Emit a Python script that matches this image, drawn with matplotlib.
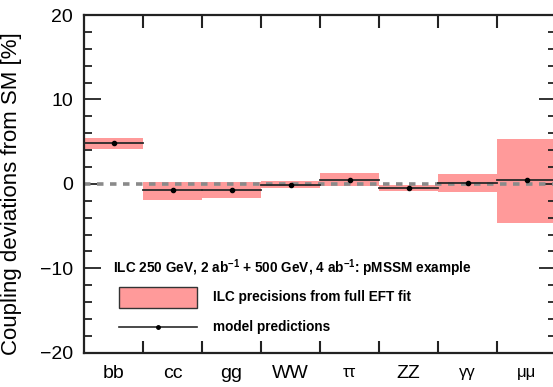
import matplotlib
matplotlib.use("Agg")
import matplotlib.pyplot as plt
from matplotlib.ticker import MultipleLocator, FixedLocator
from matplotlib.patches import Rectangle
from matplotlib.lines import Line2D

categories = ["bb", "cc", "gg", "WW", "ττ", "ZZ", "γγ", "μμ"]
model = [4.8, -0.7, -0.7, -0.15, 0.45, -0.45, 0.1, 0.45]
band_hi = [5.45, 0.2, 0.2, 0.3, 1.25, -0.1, 1.2, 5.3]
band_lo = [4.15, -1.9, -1.7, -0.5, -0.25, -0.8, -1.0, -4.6]
yticks = [-20, -10, 0, 10, 20]
ytick_labels = ["\u221220", "\u221210", "0", "10", "20"]
title_text = r"ILC 250 GeV, 2 ab$^{\mathbf{-1}}$ + 500 GeV, 4 ab$^{\mathbf{-1}}$: pMSSM example"
legend_band = "ILC precisions from full EFT fit"
legend_model = "model predictions"

plt.rcParams['font.family'] = ['Liberation Sans', 'DejaVu Sans']
plt.rcParams['mathtext.fontset'] = 'custom'
plt.rcParams['mathtext.rm'] = 'Liberation Sans'
plt.rcParams['mathtext.bf'] = 'Liberation Sans:bold'

fig = plt.figure(figsize=(5.53, 3.87), dpi=100)
ax = fig.add_axes([84/553, 34.3/387, 472/553, 337.7/387])

band_color = "#ff9a9a"
xs = list(range(len(categories)))
ax.bar(xs, [h - l for h, l in zip(band_hi, band_lo)], bottom=band_lo, width=1.0,
       color=band_color, edgecolor="none", zorder=1)
for x, m in zip(xs, model):
    ax.plot([x - 0.5, x + 0.5], [m, m], color="#2a2a2a", lw=1.3, zorder=3)
ax.plot(xs, model, "o", color="black", ms=3, zorder=4)

ax.axhline(0, color="#8a8a8a", lw=2.6, ls=(0, (1.8, 1.8)), zorder=2)

ax.set_xlim(-0.5, 7.5)
ax.set_ylim(-20, 20)
ax.set_xticks(xs)
ax.set_xticklabels(categories, fontsize=14)
for lab in ax.get_xticklabels():
    if any(ch in lab.get_text() for ch in "τγμ"):
        lab.set_fontsize(12)
ax.tick_params(axis='x', which='major', length=0, pad=9)
ax.xaxis.set_minor_locator(FixedLocator([i + 0.5 for i in range(7)]))
ax.tick_params(axis='x', which='minor', direction='in', length=9, width=1.5,
               top=True, bottom=True, color="#222222")
ax.yaxis.set_minor_locator(MultipleLocator(2))
ax.set_yticks(yticks)
ax.set_yticklabels(ytick_labels)
ax.tick_params(axis='y', which='major', direction='in', length=12, width=1.3,
               left=True, right=True, labelsize=14, pad=8, color="#222222")
ax.tick_params(axis='y', which='minor', direction='in', length=6, width=1.3,
               left=True, right=True, color="#222222")
ax.set_ylabel("Coupling deviations from SM [%]", fontsize=16, labelpad=4)
ax.yaxis.set_label_coords(22/553, 0.5, transform=fig.transFigure)
for s in ax.spines.values():
    s.set_linewidth(1.6)
    s.set_color("#222222")

fs_leg = 9.8
fig.text(113/553, 1 - 268/387, title_text, fontsize=fs_leg, fontweight='bold',
         va='center', ha='left')
fig.patches.append(Rectangle((119/553, 1 - 308/387), 78/553, 21.5/387,
                             transform=fig.transFigure, facecolor=band_color,
                             edgecolor="#333333", lw=1.0))
fig.text(212.7/553, 1 - 297/387, legend_band, fontsize=fs_leg, fontweight='bold',
         va='center', ha='left')
fig.lines.append(Line2D([119/553, 197/553], [1 - 327/387] * 2,
                        transform=fig.transFigure, color="#2a2a2a", lw=1.2))
fig.lines.append(Line2D([158/553], [1 - 327/387], transform=fig.transFigure,
                        marker="o", ms=2.5, color="black"))
fig.text(212.7/553, 1 - 327/387, legend_model, fontsize=fs_leg, fontweight='bold',
         va='center', ha='left')

fig.savefig("out.png", dpi=100)
